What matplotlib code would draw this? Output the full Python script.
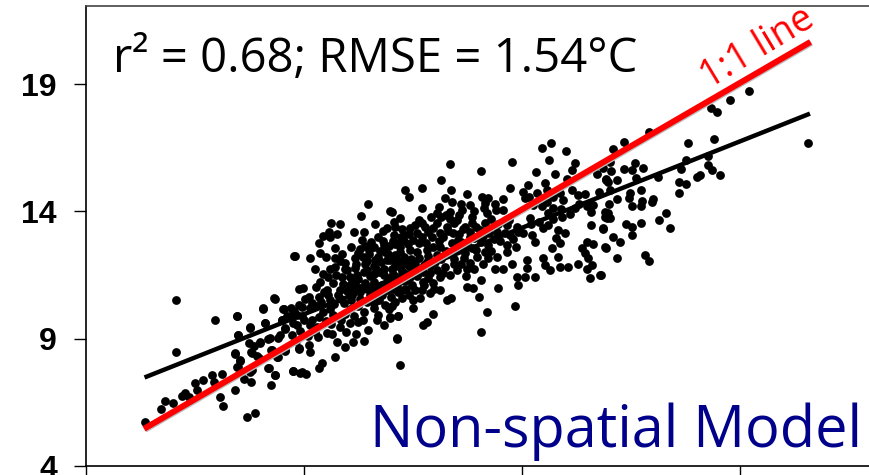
import numpy as np
import matplotlib
matplotlib.use('Agg')
import matplotlib.pyplot as plt
import matplotlib.patheffects as pe

pts_low = [(5.37,5.74),(5.73,6.24),(5.83,6.54),(6.00,6.49),(6.21,6.76),(6.27,6.85),(6.36,6.72),(6.50,7.27),
           (6.56,6.98),(6.70,7.39),(6.90,7.56),(6.95,7.31),(7.13,7.60),(7.07,6.71),(7.16,6.37),(7.43,6.98),
           (7.69,5.91),(7.89,6.08),(7.63,7.41),(7.79,7.29),(7.43,8.41),(7.55,8.14),(7.49,7.89),(7.81,7.77),
           (6.08,10.53),(6.08,8.46),(6.97,9.73),(7.46,9.89),(7.50,9.16),(7.76,9.43),(8.06,10.18),(8.33,10.57),
           (8.12,9.60),(8.78,12.24),(8.54,10.15),(8.77,10.10),(8.51,9.73),(8.58,9.37),(8.42,9.02),(8.19,8.98),
           (8.00,8.88),(7.85,8.71),(7.79,8.49),(7.93,8.32),(8.25,8.56),(8.39,8.29),(8.58,8.53),(8.19,7.85),
           (8.33,7.57),(8.26,7.17),(8.75,7.74),(8.92,7.66),(8.88,8.60),(8.90,10.94)]

pts_mid = [(10.48,14.28),(10.32,13.82),(10.98,14.03),(10.64,13.49),(9.82,13.49),(9.62,13.54),(10.16,13.20),
           (10.38,13.20),(11.06,13.60),(9.58,13.20),(9.77,13.10),(9.45,13.03),(9.61,12.98),(9.35,12.75),
           (10.81,12.85),(11.06,13.07),(9.72,12.56),(10.29,12.51),(9.38,12.35),(9.52,12.22),(8.79,12.23),
           (9.15,12.17),(9.72,12.16),(9.25,11.72),(10.18,12.16),(9.95,11.96),(9.72,11.80),(10.64,12.09),
           (10.87,12.42),(11.09,12.74),(10.98,12.09),(10.18,11.76),(10.37,11.63),(10.07,11.44),(9.87,11.44),
           (9.68,11.17),(9.53,10.91),(9.29,11.04),(8.99,10.98),(9.11,10.65),(9.34,10.65),(9.84,10.91),
           (10.18,11.17),(10.37,11.04),(10.60,11.24),(10.83,11.50),(11.06,11.30),(10.71,10.78),(10.90,10.91),
           (8.32,10.58),(8.06,10.19),(8.52,10.17),(8.77,10.00),(8.96,10.26),(9.15,10.19),(7.46,9.90),
           (8.50,9.73),(8.12,9.60),(7.76,9.45),(7.50,9.15),(8.84,9.54),(8.58,9.41),(9.19,9.73),(9.45,10.06),
           (9.68,9.93),(9.95,9.99),(10.37,10.06),(10.60,10.19),(10.87,10.32),(8.46,9.15),(8.23,9.01),
           (8.00,8.82),(7.74,8.82),(7.43,8.43),(7.81,8.43),(7.55,8.16),(7.97,8.23),(8.27,8.55),(8.58,8.55),
           (8.41,8.29),(8.90,8.62),(9.15,8.49),(9.11,8.75),(9.32,9.05),(9.53,9.21),(9.76,8.88),(9.95,8.69),
           (10.12,8.86),(10.38,8.92),(9.84,9.47),(10.06,9.60),(10.25,9.67),(10.48,9.34),(10.83,9.54),
           (10.98,9.87),(11.15,9.90),(11.13,8.99),(9.72,8.29),(9.42,8.03),(9.34,7.84),(8.75,7.74),(8.96,7.68),
           (9.06,7.63),(8.20,7.86),(8.33,7.57),(7.78,7.70),(7.47,7.90),(11.21,7.97)]

pts_blob = [(10.40,11.92),(10.62,11.86),(10.78,12.02),(11.02,11.72),(11.20,12.60),(11.31,11.98),(10.22,11.52),
            (10.52,11.48),(10.72,11.62),(10.91,11.24),(11.18,11.44),(10.05,11.12),(10.30,10.82),(10.51,10.71),
            (10.09,10.52),(10.44,10.44),(10.72,10.54),(11.00,10.62),(9.92,10.42),(9.60,10.52),(9.47,10.82),
            (9.78,10.70),(10.00,10.88),(10.24,10.30),(10.66,10.92),(10.94,12.32),(11.22,12.98),(10.62,12.62),
            (10.82,13.22),(10.34,12.86),(10.08,12.62),(9.88,12.32),(10.50,12.32),(11.12,12.12),(11.38,12.74),
            (10.00,11.70),(9.56,11.42),(9.38,11.22),(9.20,10.42),(9.02,10.56),(8.90,10.34),(8.68,9.88),
            (8.96,9.88),(9.30,9.46),(9.62,9.56),(9.96,9.28),(8.72,9.16),(8.92,9.32),(8.82,8.92),(9.10,9.10),
            (10.20,9.18),(10.68,9.72),(11.02,10.30),(11.28,10.92),(11.48,11.12)]

pts_dense = [(9.25,10.3),(9.4,10.45),(9.55,10.7),(9.7,10.35),(9.85,10.55),(9.9,11.15),(9.75,11.5),(9.6,11.75),
             (9.45,11.55),(9.95,11.75),(9.82,12.05),(9.6,10.15),(9.35,9.85),(9.15,9.55),(9.0,9.75),(9.25,9.25),
             (9.65,9.2),(9.85,9.75),(9.5,9.7),(10.05,10.15),(10.1,10.7),(10.15,10.95),(10.1,11.3),(10.25,11.35),
             (10.3,11.0),(10.2,11.95),(10.35,12.2),(10.45,12.05),(10.4,11.2),(10.45,10.95),(10.3,10.55),
             (10.15,9.9),(10.35,9.75),(10.45,11.7),(10.5,12.5),(10.25,12.35),(10.4,12.65),(10.55,11.05),
             (10.6,11.55),(10.65,11.75),(10.7,12.2),(10.75,12.45),(10.8,11.1),(10.85,11.75),(10.9,12.1),
             (10.95,11.4),(10.6,10.4),(10.8,10.7),(10.95,10.15),(10.7,9.95),(10.55,12.8),(10.7,13.0),
             (10.95,12.65),(10.85,12.7),(10.9,13.35),(11.05,11.55),(11.1,11.85),(11.15,12.05),(11.2,12.4),
             (11.25,11.65),(11.3,11.25),(11.35,11.55),(11.4,11.85),(11.45,12.15),(11.05,12.85),(11.3,12.85),
             (11.4,13.1),(11.1,10.45),(11.25,10.6),(11.35,10.95),(11.42,10.7),(11.25,13.3),(11.05,10.95),
             (11.55,11.95),(11.6,12.4),(11.65,12.75),(11.7,13.0),(11.75,11.9),(11.8,12.75),(11.85,12.25),
             (11.9,11.85),(11.95,12.6),(11.55,13.45),(11.72,13.55),(11.85,13.2),(11.95,13.35),(11.6,11.45),
             (11.75,11.1),(11.85,11.4),(11.55,10.9),(11.98,10.95),(12.05,12.3),(12.1,12.85),(12.15,12.15),
             (12.2,13.0),(12.25,12.45),(12.3,13.25),(12.35,13.7),(12.4,12.75),(12.45,12.15),(12.05,11.7),
             (12.2,11.6),(12.35,11.5),(12.45,11.95),(12.25,13.85),(12.45,13.55),(12.15,13.8),(12.05,13.95),
             (12.55,13.1),(12.6,12.8),(12.65,13.3),(12.7,12.35),(12.75,12.75),(12.8,13.2),(12.85,13.55),
             (12.9,12.95),(12.95,12.5),(12.6,11.95),(12.75,11.75),(12.9,11.75),(12.6,14.3),(12.9,14.0),
             (12.55,13.85),(12.95,13.4),(13.05,12.8),(13.1,13.05),(13.15,13.55),(13.25,13.15),(13.3,13.7),
             (13.35,12.9),(13.45,13.5),(13.5,12.85),(13.6,13.15),(13.7,13.65),(13.1,11.95),(13.3,12.45),
             (13.15,14.35),(13.4,14.05),(13.8,12.9),(13.9,13.2),(14.2,13.5),(14.4,13.6),(14.7,13.7),(14.9,14.1),
             (15.1,13.9),(15.3,14.3),(15.5,14.2),(14.45,14.2),(14.7,14.55),(14.15,14.55),(14.95,14.45),
             (8.62,9.9),(8.7,10.2),(8.85,9.95),(8.75,9.6)]

pts_upper = [(14.66,16.67),(14.46,16.50),(15.01,16.39),(14.63,16.04),(13.76,15.93),(12.34,15.87),(15.22,15.89),
             (13.06,15.60),(15.14,15.63),(14.32,15.53),(14.76,15.47),(15.72,15.49),(12.14,15.25),(15.92,15.26),
             (14.53,15.13),(14.13,15.04),(15.02,15.26),(11.31,14.84),(11.70,14.91),(12.37,14.84),(12.73,14.68),
             (11.41,14.57),(13.73,14.91),(14.03,14.77),(14.34,14.71),(14.57,14.84),(14.87,14.71),(15.14,14.84),
             (15.29,14.64),(15.44,14.68),(15.77,14.75),(15.98,15.17),(14.07,14.51),(12.24,14.51),(12.39,14.38),
             (13.08,14.58),(13.23,14.51),(13.57,14.47),(13.38,14.29),(11.70,14.12),(12.10,14.16),(12.81,14.25),
             (12.62,14.05),(13.12,14.12),(13.57,14.05),(14.26,14.25),(14.57,14.38),(14.72,14.12),(15.21,14.12),
             (15.63,14.25),(15.90,13.99),(15.59,13.99),(11.02,13.99),(11.21,13.73),(11.64,13.66),(11.91,13.79),
             (12.35,13.99),(12.05,13.53),(12.51,13.66),(12.85,13.79),(13.19,13.92),(14.18,13.73),(14.60,13.92),
             (14.91,13.77),(15.94,13.73),(15.58,13.47),(15.85,13.31),(14.60,13.47),(13.65,13.47),(13.88,13.40),
             (14.49,13.33),(14.83,13.27),(14.98,13.14),(14.03,13.14),(13.73,13.07),(13.42,13.20),(11.09,13.40),
             (11.44,13.33),(11.78,13.40),(12.28,13.40),(12.70,13.40),(13.04,13.27),(14.22,13.07),(14.30,12.81),
             (14.79,12.94),(14.87,12.75),(15.48,12.81),(15.62,12.72),(15.37,12.55),(15.90,12.59),(13.65,12.68),
             (13.86,12.61),(14.68,12.58),(11.13,12.75),(11.51,12.88),(11.93,13.01),(12.12,12.61),(12.54,12.88),
             (12.85,12.55),(13.23,12.68),(13.65,12.42),(15.44,12.35),(15.52,12.16),(14.82,12.22),(14.49,12.16),
             (14.11,12.09),(13.42,12.20),(13.23,12.16),(13.76,11.93),(15.61,11.89),(15.29,11.93),(15.06,11.80),
             (14.86,11.83),(14.53,11.89),(14.64,11.70),(14.12,11.76),(13.57,11.72),(13.38,11.72),(15.48,11.72),
             (15.56,11.37),(15.79,11.50),(14.30,11.43),(14.07,11.43),(13.88,11.43),(13.92,11.11),(13.46,10.98),
             (13.06,11.30),(12.87,10.98),(12.75,11.04),(12.72,11.46),(12.51,11.70),(12.24,11.83),(11.90,11.57),
             (12.12,11.43),(11.74,11.24),(12.12,10.91),(11.90,10.78),(11.70,10.91),(11.67,10.58),(11.50,10.52),
             (11.50,10.19),(11.17,10.85),(11.36,11.30),(12.28,10.52),(12.37,10.58),(13.02,10.65),(13.19,10.06),
             (13.83,10.30),(11.97,9.96),(11.82,9.67),(11.17,9.90),(10.98,9.80),(13.06,9.28),(11.13,9.01),(11.74,9.54),
             (11.44,12.48),(11.63,12.16),(11.29,12.22),(11.82,12.48),(11.82,12.03),(11.09,12.29),(12.35,12.35),
             (12.66,12.16),(12.96,12.22),(12.01,12.03),(11.21,11.83),(11.51,11.70),(11.74,11.63),(12.43,13.14),
             (12.12,13.14),(12.81,13.01),(11.59,13.14),(11.29,13.07),(12.62,12.55),(13.15,12.42),(12.81,11.96),
             (11.44,11.43),(11.09,11.43),(11.97,11.18),(11.13,11.11)]

pts_high = [(19.20,18.73),(18.77,18.39),(18.34,18.05),(18.47,17.92),(16.91,17.14),(16.34,16.74),(16.09,16.45),
            (17.81,16.67),(18.40,16.83),(20.55,16.67),(17.75,16.04),(18.26,16.19),(16.01,15.93),(16.59,15.91),
            (16.78,15.69),(16.34,15.65),(16.51,15.63),(16.05,15.59),(15.86,15.69),(17.64,15.65),(18.26,15.82),
            (18.36,15.64),(18.53,15.43),(18.07,15.43),(18.00,15.34),(17.12,15.36),(16.61,15.30),(15.92,15.23),
            (16.18,15.23),(17.60,15.14),(17.75,15.08),(17.60,14.71),(16.01,14.84),(16.72,14.85),(16.47,14.74),
            (17.01,14.49),(16.97,14.36),(16.18,14.49),(16.45,14.51),(16.74,14.41),(16.72,14.21),(16.51,14.21),
            (15.99,14.29),(17.31,13.95),(17.14,13.66),(17.40,13.36),(16.72,13.54),(16.38,13.49),(16.51,13.40),
            (16.51,13.07),(15.98,13.92),(16.01,13.73),(15.90,13.79),(15.86,13.34),(16.09,12.98),(16.24,12.79),
            (15.92,12.58),(16.18,12.18),(16.81,12.29),(16.91,12.05),(15.82,11.50)]

fit_x = [5.40, 20.55]
fit_y = [7.51, 17.81]
one_x = [5.40, 20.55]
one_y = [5.52, 20.60]
ticks = [4, 9, 14, 19]

pts = np.array(pts_low + pts_mid + pts_blob + pts_dense + pts_upper + pts_high)

plt.rcParams['font.family'] = ['Open Sans', 'DejaVu Sans']

fig = plt.figure(figsize=(8.69, 4.75), dpi=100)
ax = fig.add_axes([85.5/869, 9/475, 783.5/869, 460/475])

ax.scatter(pts[:, 0], pts[:, 1], s=40, color='black', linewidths=0, zorder=2)
ax.plot(fit_x, fit_y, color='black', lw=3.2, zorder=3)
ax.plot(one_x, one_y, color='#ff0000', lw=4.3, zorder=4,
        path_effects=[pe.SimpleLineShadow(offset=(0.7, -0.7), shadow_color='#bbbbbb', alpha=1), pe.Normal()])

ax.set_xlim(4, 21.95)
ax.set_ylim(4, 22.07)
ax.spines['right'].set_visible(False)
for s in ['left', 'bottom']:
    ax.spines[s].set_linewidth(1.2)
ax.spines['top'].set_linewidth(1.2)
ax.spines['top'].set_color('#444444')

ax.set_xticks(ticks)
ax.set_xticklabels([])
ax.set_yticks(ticks)
ax.set_yticklabels([str(t) for t in ticks], family='Liberation Sans', fontweight='bold', fontsize=23)
ax.tick_params(axis='both', length=8.6, width=1)
ax.tick_params(axis='y', pad=12)

ax.text(4.63, 19.47, 'r² = 0.68; RMSE = 1.54°C', fontsize=34, color='black')
ax.text(10.52, 4.75, 'Non-spatial Model', fontsize=41.5, color='#00008b')
ax.text(19.39, 20.42, '1:1 line', fontsize=27, color='#ff0000', rotation=31,
        ha='center', va='center', rotation_mode='anchor')

fig.savefig('out.png', dpi=100)
